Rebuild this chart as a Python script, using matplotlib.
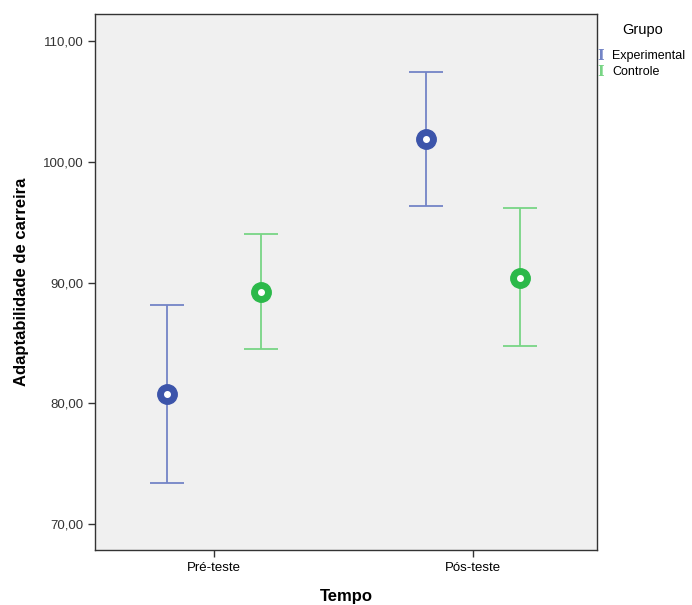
import numpy as np
import matplotlib.pyplot as plt

# Data
tempos = ["Pré-teste", "Pós-teste"]
grupos = ["Experimental", "Controle"]
exp_mean = [80.75, 101.9]
exp_low = [73.4, 96.35]
exp_high = [88.1, 107.4]
ctrl_mean = [89.25, 90.4]
ctrl_low = [84.5, 84.75]
ctrl_high = [94.0, 96.2]

dark = {"Experimental": "#3c54aa", "Controle": "#2bb94a"}
light = {"Experimental": "#7384c6", "Controle": "#78d585"}

W, H = 692, 605
fig = plt.figure(figsize=(W / 100, H / 100), dpi=100)
ax = fig.add_axes([0.1373, 0.0909, 0.7254, 0.886])
ax.set_facecolor("#f0f0f0")

x = np.arange(len(tempos))
offs = 0.183
series = [("Experimental", exp_mean, exp_low, exp_high, -offs),
          ("Controle", ctrl_mean, ctrl_low, ctrl_high, offs)]

for name, m, lo, hi, dx in series:
    m = np.array(m); lo = np.array(lo); hi = np.array(hi)
    ax.errorbar(x + dx, m, yerr=[m - lo, hi - m], fmt="none",
                ecolor=light[name], elinewidth=1.3, capsize=12, capthick=1.3,
                zorder=2)
    ax.plot(x + dx, m, "o", ms=14, color=dark[name], mec=dark[name], zorder=3)
    ax.plot(x + dx, m, "o", ms=4, color="white", mec="white", zorder=4)

ax.set_xlim(-0.46, 1.479)
ax.set_ylim(67.85, 112.24)
ax.set_xticks(x)
ax.set_xticklabels(tempos, fontsize=9.5, family="Liberation Sans")
yt = [70, 80, 90, 100, 110]
ax.set_yticks(yt)
ax.set_yticklabels([f"{v:.2f}".replace(".", ",") for v in yt],
                   fontsize=9.5, family="Liberation Sans", color="#333333")
ax.tick_params(direction="out", length=5, width=1, color="#333333")
for s in ax.spines.values():
    s.set_color("#333333")
    s.set_linewidth(1)

ax.set_xlabel("Tempo", fontsize=12, fontweight="bold", family="Liberation Sans",
              labelpad=11)
ax.set_ylabel("Adaptabilidade de carreira", fontsize=12, fontweight="bold",
              family="Liberation Sans", labelpad=10)

# legend, placed by hand to the right of the plot
fig.text(643 / W, 1 - 30 / H, "Grupo", ha="center", va="center",
         fontsize=10.5, family="Liberation Sans")
for i, g in enumerate(grupos):
    yy = 1 - (56 + 16 * i) / H
    fig.text(601 / W, yy, "I", ha="center", va="center", color=light[g],
             fontsize=10, fontweight="bold", family="DejaVu Serif")
    fig.text(612 / W, yy, g, ha="left", va="center", fontsize=9,
             family="Liberation Sans")

fig.savefig("out.png", dpi=100)
